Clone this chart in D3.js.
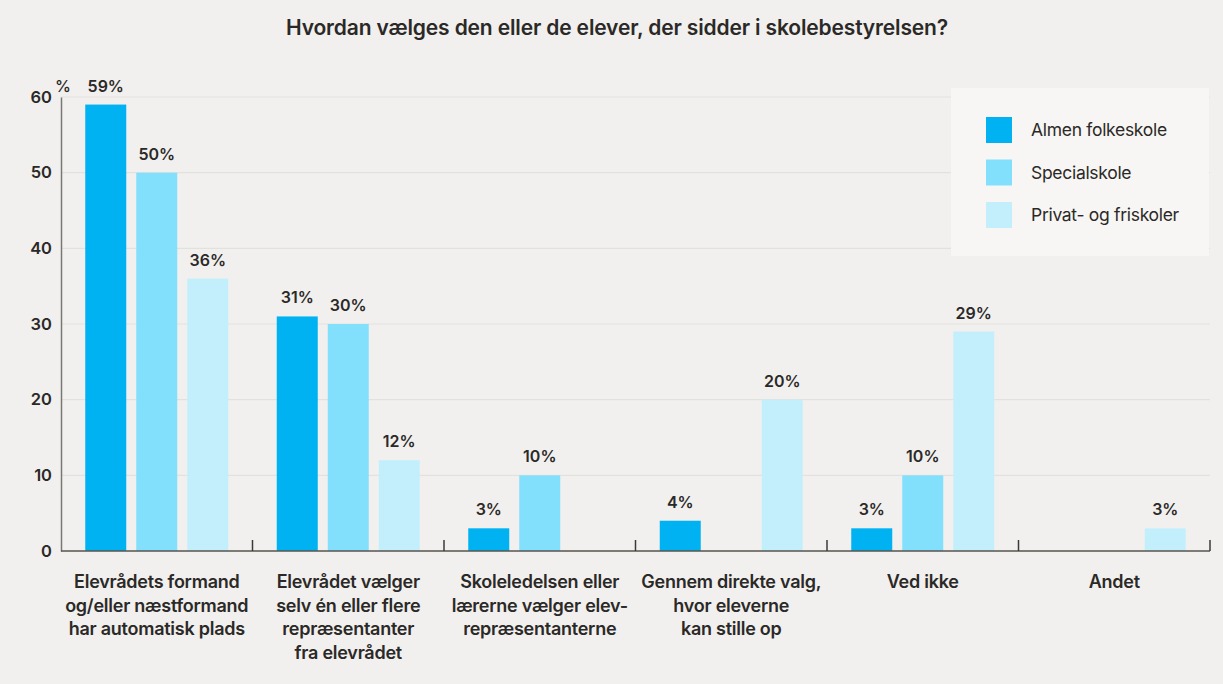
<!DOCTYPE html>
<html><head><meta charset="utf-8">
<script src="https://cdn.jsdelivr.net/npm/d3@7"></script>
<style>
html,body{margin:0;padding:0;background:#f1f0ee;}
svg{display:block;font-family:Inter,"Noto Sans",sans-serif;}
</style></head>
<body><svg id="chart" width="1223" height="684"></svg>
<script>
const title = "Hvordan vælges den eller de elever, der sidder i skolebestyrelsen?";
const categories = [
  ["Elevrådets formand","og/eller næstformand","har automatisk plads"],
  ["Elevrådet vælger","selv én eller flere","repræsentanter","fra elevrådet"],
  ["Skoleledelsen eller","lærerne vælger elev-","repræsentanterne"],
  ["Gennem direkte valg,","hvor eleverne","kan stille op"],
  ["Ved ikke"],
  ["Andet"]
];
const seriesNames = ["Almen folkeskole","Specialskole","Privat- og friskoler"];
const almen   = [59, 31, 3, 4, 3, null];
const special = [50, 30, 10, null, 10, null];
const privat  = [36, 12, null, 20, 29, 3];
const yTicks = [0,10,20,30,40,50,60];
const colors = ["#00b2f2","#82e0fd","#c3effd"];

const seriesValues = [almen, special, privat];
const svg = d3.select("#chart");
const m = {left:61, right:1210, top:97, bottom:551};

const x = d3.scaleBand().domain(d3.range(categories.length)).range([m.left, m.right]).padding(0);
const y = d3.scaleLinear().domain([0,60]).range([m.bottom, m.top]);
const xs = d3.scaleBand().domain(d3.range(3)).range([-71.5, 71.5]).paddingInner(10/51).paddingOuter(0);

// title
svg.append("text").attr("x",617).attr("y",35).attr("text-anchor","middle")
  .attr("font-size",21).attr("font-weight",600).attr("fill","#2b2927").attr("letter-spacing","-0.15")
  .text(title);

// gridlines
svg.append("g").selectAll("line").data(yTicks.filter(d=>d>0)).join("line")
  .attr("x1",m.left).attr("x2",m.right).attr("y1",d=>y(d)).attr("y2",d=>y(d))
  .attr("stroke","#e3e1de").attr("stroke-width",1.2);

// y axis
const yAxis = svg.append("g").attr("transform",`translate(${m.left},0)`)
  .call(d3.axisLeft(y).tickValues(yTicks).tickSize(0).tickPadding(9));
yAxis.select(".domain").attr("stroke","#7a7875").attr("stroke-width",1.5);
yAxis.selectAll("text").attr("font-size",16.5).attr("font-weight",600).attr("fill","#2b2927")
  .attr("font-family","Inter,sans-serif");
svg.append("text").attr("x",55).attr("y",92).attr("font-size",16).attr("fill","#2b2927")
  .attr("font-weight",500).text("%");

// bars
const groups = svg.append("g").selectAll("g").data(categories).join("g")
  .attr("transform",(d,i)=>`translate(${x(i)+x.bandwidth()/2},0)`);
groups.each(function(c,i){
  const g = d3.select(this);
  seriesValues.forEach((vals,s)=>{
    const v = vals[i];
    if(v==null) return;
    g.append("rect").attr("x",xs(s)).attr("width",xs.bandwidth())
      .attr("y",y(v)).attr("height",y(0)-y(v)).attr("fill",colors[s]);
    g.append("text").attr("x",xs(s)+xs.bandwidth()/2).attr("y",y(v)-13)
      .attr("text-anchor","middle").attr("font-size",16).attr("font-weight",600)
      .attr("fill","#2b2927").text(v+"%");
  });
});

// x axis
const xAxis = svg.append("g").attr("transform",`translate(0,${m.bottom})`);
xAxis.append("line").attr("x1",m.left).attr("x2",m.right).attr("stroke","#57544f").attr("stroke-width",1.5);
xAxis.selectAll("line.tick").data(d3.range(1,categories.length+1)).join("line").attr("class","tick")
  .attr("x1",d=>x.step()*d+m.left).attr("x2",d=>x.step()*d+m.left).attr("y1",0).attr("y2",-11)
  .attr("stroke","#3c3a37").attr("stroke-width",1.5);

// category labels
const lab = svg.append("g").selectAll("text").data(categories).join("text")
  .attr("x",(d,i)=>x(i)+x.bandwidth()/2).attr("y",588).attr("text-anchor","middle")
  .attr("font-size",18).attr("font-weight",600).attr("fill","#2b2927").attr("letter-spacing","-0.25");
lab.selectAll("tspan").data(d=>d).join("tspan")
  .attr("x",function(){return d3.select(this.parentNode).attr("x");})
  .attr("dy",(d,j)=>j===0?0:23.5).text(d=>d);

// legend
const lg = svg.append("g");
lg.append("rect").attr("x",951).attr("y",88).attr("width",258).attr("height",168).attr("fill","#f7f6f4");
seriesNames.forEach((n,i)=>{
  lg.append("rect").attr("x",986).attr("y",117+i*42.5).attr("width",26).attr("height",26).attr("fill",colors[i]);
  lg.append("text").attr("x",1031).attr("y",136+i*42.5).attr("font-size",17.5)
    .attr("fill","#2b2927").attr("letter-spacing","-0.3").text(n);
});
</script></body></html>
